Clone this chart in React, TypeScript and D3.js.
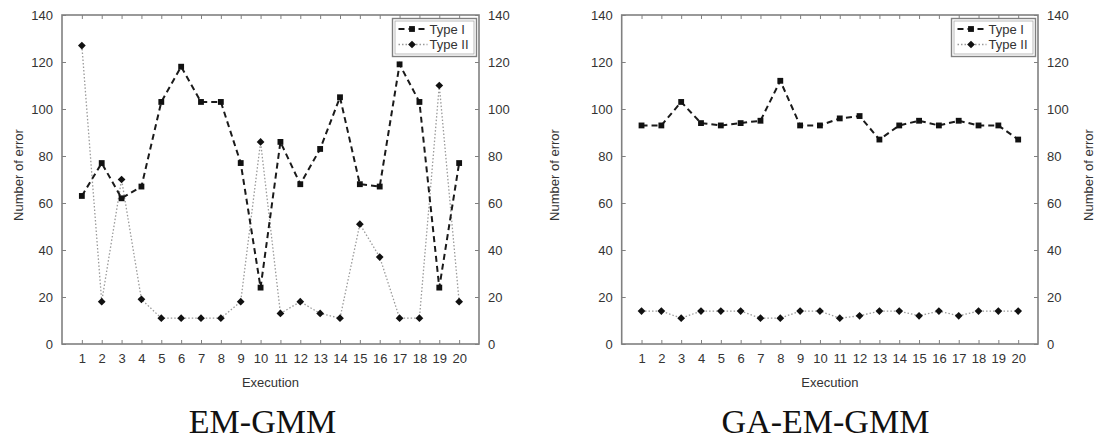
import { useEffect, useRef } from 'react';
import * as d3 from 'd3';

// Execution index 1..20
const executions = [1, 2, 3, 4, 5, 6, 7, 8, 9, 10, 11, 12, 13, 14, 15, 16, 17, 18, 19, 20];
const yTicks = [0, 20, 40, 60, 80, 100, 120, 140];

// EM-GMM
const emTypeI = [63, 77, 62, 67, 103, 118, 103, 103, 77, 24, 86, 68, 83, 105, 68, 67, 119, 103, 24, 77];
const emTypeII = [127, 18, 70, 19, 11, 11, 11, 11, 18, 86, 13, 18, 13, 11, 51, 37, 11, 11, 110, 18];

// GA-EM-GMM
const gaTypeI = [93, 93, 103, 94, 93, 94, 95, 112, 93, 93, 96, 97, 87, 93, 95, 93, 95, 93, 93, 87];
const gaTypeII = [14, 14, 11, 14, 14, 14, 11, 11, 14, 14, 11, 12, 14, 14, 12, 14, 12, 14, 14, 14];

const seriesNames = ['Type I', 'Type II'];

const FONT = "'Liberation Sans', Arial, Helvetica, sans-serif";
const SERIF = "'Liberation Serif', 'Times New Roman', serif";
const FRAME = '#808080';
const TEXT = '#333';

const TOP = 15;
const BOTTOM = 344;

// even diamond (gnuplot style), size = area
const evenDiamond = {
    draw(ctx, size) {
        const r = Math.sqrt(size / 2);
        ctx.moveTo(0, -r);
        ctx.lineTo(r, 0);
        ctx.lineTo(0, r);
        ctx.lineTo(-r, 0);
        ctx.closePath();
    },
};

function drawPanel(svg, opts) {
    const { x0, x1, typeI, typeII, title, titleX, leftTitleX, rightTitleX, id } = opts;
    const g = svg.append('g');

    const x = d3.scaleLinear().domain([0, 21]).range([x0, x1]);
    const y = d3.scaleLinear().domain([0, 140]).range([BOTTOM, TOP]);

    // Axes (inward ticks)
    const styleAxis = (ax) => {
        ax.select('.domain').remove();
        ax.selectAll('line').attr('stroke', FRAME).attr('stroke-width', 1);
        ax.selectAll('text').style('fill', TEXT).style('font-size', '13px').style('font-family', FONT);
    };

    styleAxis(g.append('g').attr('transform', `translate(0,${BOTTOM})`)
        .call(d3.axisBottom(x).tickValues(executions).tickSize(-4).tickPadding(10).tickFormat(d3.format('d'))));
    styleAxis(g.append('g').attr('transform', `translate(0,${TOP})`)
        .call(d3.axisTop(x).tickValues(executions).tickSize(-4).tickFormat(() => '')));
    styleAxis(g.append('g').attr('transform', `translate(${x0},0)`)
        .call(d3.axisLeft(y).tickValues(yTicks).tickSize(-4).tickPadding(9)));
    styleAxis(g.append('g').attr('transform', `translate(${x1},0)`)
        .call(d3.axisRight(y).tickValues(yTicks).tickSize(-4).tickPadding(9)));

    // Frame
    g.append('rect')
        .attr('x', x0).attr('y', TOP)
        .attr('width', x1 - x0).attr('height', BOTTOM - TOP)
        .attr('fill', 'none').attr('stroke', FRAME).attr('stroke-width', 1.6);

    // Series
    const line = d3.line().x((d, i) => x(executions[i])).y(d => y(d));

    g.append('path').datum(typeII)
        .attr('d', line).attr('fill', 'none')
        .attr('stroke', '#9a9a9a').attr('stroke-width', 1.3)
        .attr('stroke-dasharray', '1.5,2');

    g.append('path').datum(typeI)
        .attr('d', line).attr('fill', 'none')
        .attr('stroke', '#1a1a1a').attr('stroke-width', 2)
        .attr('stroke-dasharray', '6,4');

    const square = d3.symbol(d3.symbolSquare, 34);
    const diamond = d3.symbol(evenDiamond, 30);

    g.selectAll(`path.sq-${id}`).data(typeI).join('path')
        .attr('class', `sq-${id}`)
        .attr('d', square)
        .attr('transform', (d, i) => `translate(${x(executions[i])},${y(d)})`)
        .attr('fill', '#111');

    g.selectAll(`path.dm-${id}`).data(typeII).join('path')
        .attr('class', `dm-${id}`)
        .attr('d', diamond)
        .attr('transform', (d, i) => `translate(${x(executions[i])},${y(d)})`)
        .attr('fill', '#111');

    // Legend
    const lx1 = x1 - 2.5;
    const lx0 = lx1 - 84;
    const ly0 = TOP + 3.5;
    const ly1 = TOP + 41.5;
    g.append('rect')
        .attr('x', lx0).attr('y', ly0).attr('width', lx1 - lx0).attr('height', ly1 - ly0)
        .attr('fill', '#fff').attr('stroke', FRAME).attr('stroke-width', 1.4);
    g.append('rect')
        .attr('x', lx0 + 2.5).attr('y', ly0 + 2.5).attr('width', lx1 - lx0 - 5).attr('height', ly1 - ly0 - 5)
        .attr('fill', 'none').attr('stroke', '#aaa').attr('stroke-width', 0.8);

    const rows = [
        { name: seriesNames[0], dash: '6,4', stroke: '#1a1a1a', w: 2, sym: square, yy: TOP + 14 },
        { name: seriesNames[1], dash: '1.5,2', stroke: '#9a9a9a', w: 1.3, sym: diamond, yy: TOP + 29.5 },
    ];
    rows.forEach(r => {
        g.append('line')
            .attr('x1', lx0 + 6).attr('x2', lx0 + 35)
            .attr('y1', r.yy).attr('y2', r.yy)
            .attr('stroke', r.stroke).attr('stroke-width', r.w)
            .attr('stroke-dasharray', r.dash);
        g.append('path').attr('d', r.sym)
            .attr('transform', `translate(${lx0 + 19.5},${r.yy})`)
            .attr('fill', '#111');
        g.append('text')
            .attr('x', lx0 + 37).attr('y', r.yy).attr('dy', '0.36em')
            .style('font-family', FONT).style('font-size', '13px').style('fill', TEXT)
            .text(r.name);
    });

    // Axis titles
    g.append('text')
        .attr('x', (x0 + x1) / 2).attr('y', 387)
        .attr('text-anchor', 'middle')
        .style('font-family', FONT).style('font-size', '13px').style('fill', TEXT)
        .text('Execution');

    [leftTitleX, rightTitleX].filter(v => v != null).forEach(tx => {
        g.append('text')
            .attr('transform', `translate(${tx},175) rotate(-90)`)
            .attr('text-anchor', 'middle').attr('dy', '0.35em')
            .style('font-family', FONT).style('font-size', '13px').style('fill', TEXT)
            .text('Number of error');
    });

    // Panel caption
    g.append('text')
        .attr('x', titleX).attr('y', 433)
        .attr('text-anchor', 'middle')
        .style('font-family', SERIF).style('font-size', '34px').style('fill', '#111')
        .text(title);
}

export default function App() {
    const svgRef = useRef(null);

    useEffect(() => {
        if (!svgRef.current) return;
        const svg = d3.select(svgRef.current);
        svg.selectAll('*').remove();

        drawPanel(svg, {
            id: 'em', x0: 62, x1: 479, typeI: emTypeI, typeII: emTypeII,
            title: 'EM-GMM', titleX: 262.5, leftTitleX: 18, rightTitleX: null,
        });
        drawPanel(svg, {
            id: 'ga', x0: 621.7, x1: 1038, typeI: gaTypeI, typeII: gaTypeII,
            title: 'GA-EM-GMM', titleX: 825.5, leftTitleX: 554, rightTitleX: 1088,
        });
    }, []);

    return (
        <div style={{ position: 'absolute', left: 0, top: 0 }}>
            <svg ref={svgRef} width={1096} height={439} style={{ display: 'block', background: '#fff' }} />
        </div>
    );
}
